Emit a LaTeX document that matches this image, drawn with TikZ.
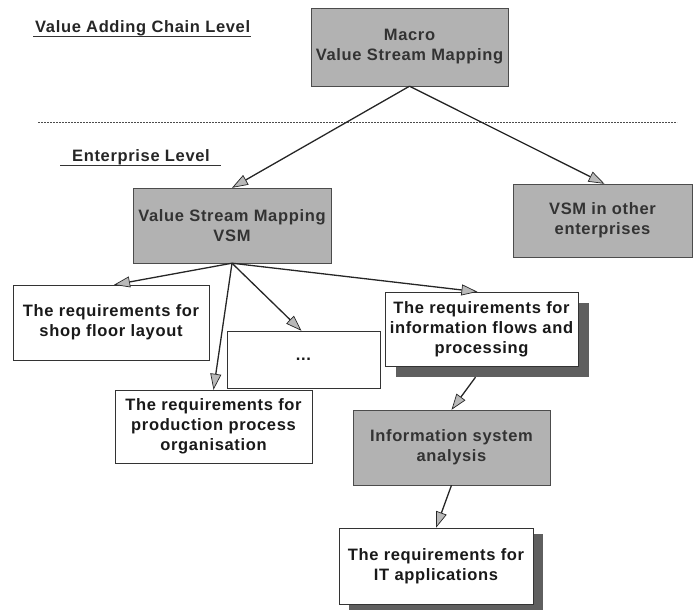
\documentclass[tikz,border=0pt]{standalone}
\usepackage{fontspec}
\setmainfont{Liberation Sans}[LetterSpace=4]
\usetikzlibrary{arrows.meta,calc}
\definecolor{boxgray}{RGB}{178,178,178}
\definecolor{shadowgray}{RGB}{95,95,95}
\begin{document}
\begin{tikzpicture}[x=1pt,y=-1pt,
  every node/.style={font=\fontsize{16.5}{20}\selectfont\bfseries, align=center},
  graybox/.style={draw=black!70, fill=boxgray, text=black!80, inner sep=2pt},
  whitebox/.style={draw=black!80, fill=white, text=black!90, inner sep=2pt},
  shadowbox/.style={fill=shadowgray, draw=none},
  conn/.style={draw=black!85, line width=1.3pt, -{Triangle[length=16pt,width=11pt,fill=gray!55,line width=0.7pt]}},
  heading/.style={inner sep=0pt, anchor=base west, text=black!85}
]
\useasboundingbox (0,0) rectangle (694,611);

% headings
\node[heading] (h1) at (35,32) {Value Adding Chain Level};
\draw[black!80, line width=0.9pt] ($(h1.base west)+(-2,4)$) coordinate (u1a) -- ($(h1.base east)+(1,4)$) coordinate (u1b);
\node[heading] (h2) at (72,161) {Enterprise Level};
\draw[black!80, line width=0.9pt] ($(h2.base west)+(-12,4)$) coordinate (u2a) -- ($(h2.base east)+(11,4)$) coordinate (u2b);

% dashed separator
\coordinate (sepL) at (38,122);
\coordinate (sepR) at (677,122);
\draw[black!70, line width=0.7pt, dash pattern=on 2pt off 1pt] (sepL) -- (sepR);

% shadows
\node[shadowbox, minimum width=193pt, minimum height=74pt] (infosh) at (492.5,340) {};
\node[shadowbox, minimum width=194pt, minimum height=76pt] (itsh) at (446,572) {};

% boxes
\node[graybox, minimum width=197pt, minimum height=78pt] (macro) at (409.5,47) {Macro\\Value Stream Mapping};
\node[graybox, minimum width=198pt, minimum height=75pt] (vsm) at (232,225.5) {Value Stream Mapping\\VSM};
\node[graybox, minimum width=179pt, minimum height=73pt] (other) at (602.5,220.5) {VSM in other\\enterprises};
\node[whitebox, minimum width=196pt, minimum height=75pt] (shop) at (111,322.5) {The requirements for\\shop floor layout};
\node[whitebox, minimum width=153pt, minimum height=57pt] (dots) at (303.5,359.5) {...};
\node[whitebox, minimum width=197pt, minimum height=73pt] (prod) at (213.5,426.5) {The requirements for\\production process\\organisation};
\node[whitebox, minimum width=193pt, minimum height=74pt] (info) at (481.5,329) {The requirements for\\information flows and\\processing};
\node[graybox, minimum width=197pt, minimum height=75pt] (isa) at (451.5,447.5) {Information system\\analysis};
\node[whitebox, minimum width=194pt, minimum height=76pt] (it) at (436,566) {The requirements for\\IT applications};

% connectors
\draw[conn] (macro.south) -- (vsm.north);
\draw[conn] (macro.south) -- ($(other.north)+(2,0)$);
\draw[conn] (vsm.south) -- ($(shop.north)+(3,0)$);
\draw[conn] (vsm.south) -- (prod.north);
\draw[conn] (vsm.south) -- ($(dots.north)+(-2,0)$);
\draw[conn] (vsm.south) -- ($(info.north)+(-4,0)$);
\draw[conn] ($(infosh.south)+(-17,0)$) -- (isa.north);
\draw[conn] (isa.south) -- (it.north);
\end{tikzpicture}
\end{document}
